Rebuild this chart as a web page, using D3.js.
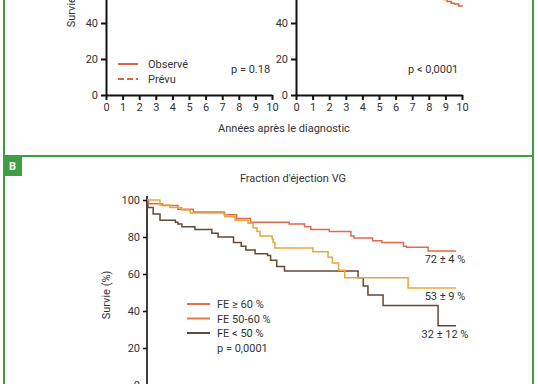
<!DOCTYPE html>
<html>
<head>
<meta charset="utf-8">
<script src="https://cdn.jsdelivr.net/npm/d3@7"></script>
<style>
  body { margin: 0; background: #fff; }
  text { font-family: Roboto, "DejaVu Sans", sans-serif; fill: #333; }
</style>
</head>
<body>
<div id="fig"></div>
<script>
// panel A : observed vs expected (only lower part visible)
var yearTicks = [0, 1, 2, 3, 4, 5, 6, 7, 8, 9, 10];
var survTicks = [0, 20, 40, 60, 80, 100];
var legendA = ["Observé", "Prévu"];
var pValuesA = ["p = 0.18", "p < 0,0001"];
// tail of observed curve, right chart (years, %)
var obsA2 = [[8.6, 54], [8.85, 53], [9.1, 52], [9.35, 51], [9.55, 50.5], [9.8, 49.5], [10, 49]];

// panel B : LV ejection fraction, Kaplan-Meier steps (years, %)
var groupsB = ["FE ≥ 60 %", "FE 50-60 %", "FE < 50 %"];
var feHigh = [[0, 100], [0.05, 98], [0.5, 97], [1.0, 95], [1.5, 93.5], [2.5, 92], [2.9, 90], [3.35, 88],
  [4.6, 87], [5.1, 85.5], [5.3, 84], [5.9, 83], [6.6, 80.5], [6.7, 79.5], [7.3, 78], [7.6, 77],
  [8.3, 75], [8.4, 74.5], [9.1, 72.5], [10, 72.5]];
var feMid = [[0, 100], [0.42, 97.3], [0.74, 96], [1.13, 94.6], [1.4, 93], [2.52, 91], [2.85, 89],
  [3.27, 87.5], [3.43, 85], [3.56, 83], [3.66, 80.5], [4.05, 79], [4.08, 77], [4.14, 74], [5.37, 72],
  [5.86, 69], [6.0, 66], [6.2, 62], [6.4, 58], [8.45, 52.5], [10, 52.5]];
var feLow = [[0, 100], [0.03, 96], [0.2, 92.5], [0.42, 89], [0.92, 88], [1.0, 87], [1.13, 85.5],
  [1.55, 84], [2.1, 82], [2.3, 80], [2.8, 77], [3.05, 75], [3.2, 73], [3.5, 71], [3.9, 70], [4.0, 67.5],
  [4.2, 64], [4.45, 61.6], [6.83, 58], [7.0, 53.5], [7.15, 48.6], [7.64, 43], [9.42, 32], [10, 32]];
var endLabels = ["72 ± 4 %", "53 ± 9 %", "32 ± 12 %"];
var pValueB = "p = 0,0001";

var curveColors = ["#e06a4e", "#eaa53c", "#5e4a38"];
var legendColors = ["#e0704f", "#e27a4a", "#5e4a38"];
var green = "#3f9e44";

var svg = d3.select("#fig").append("svg")
  .attr("width", 538)
  .attr("height", 384);

// frames
svg.append("path")
  .attr("d", "M4,0V384M533,0V384M4,156H533")
  .attr("fill", "none")
  .attr("stroke", green)
  .attr("stroke-width", 2);
svg.append("rect")
  .attr("x", 3).attr("y", 156).attr("width", 19).attr("height", 20)
  .attr("fill", green);
svg.append("text")
  .attr("x", 12.5).attr("y", 170)
  .attr("text-anchor", "middle")
  .attr("font-size", "11px")
  .attr("font-weight", "bold")
  .style("fill", "#fff")
  .text("B");

// ---------- panel A ----------
var yA = d3.scaleLinear().domain([0, 100]).range([95, -85]);
var xA1 = d3.scaleLinear().domain([0, 10]).range([106, 272]);
var xA2 = d3.scaleLinear().domain([0, 10]).range([296, 462]);

function drawAxesA(x) {
  var gy = svg.append("g")
    .attr("transform", "translate(" + x.range()[0] + ",0)")
    .call(d3.axisLeft(yA).tickValues(survTicks).tickSize(5).tickSizeOuter(0));
  var gx = svg.append("g")
    .attr("transform", "translate(0," + yA(0) + ")")
    .call(d3.axisBottom(x).tickValues(yearTicks).tickSize(5).tickSizeOuter(0).tickPadding(3));
  [gy, gx].forEach(function (g) {
    g.selectAll("path, line").attr("stroke", "#111").attr("stroke-width", 2);
    g.selectAll("text").attr("font-size", "11px").style("fill", "#333");
  });
  // upper part of panel A is cropped off the figure
  gy.selectAll(".tick").filter(function (d) { return yA(d) < 0; }).remove();
}
drawAxesA(xA1);
drawAxesA(xA2);

svg.append("text")
  .attr("transform", "translate(75,3) rotate(-90)")
  .attr("text-anchor", "middle")
  .attr("font-size", "11px")
  .text("Survie (%)");

svg.append("text")
  .attr("x", 284).attr("y", 132)
  .attr("text-anchor", "middle")
  .attr("font-size", "11px")
  .text("Années après le diagnostic");

var lineA2 = d3.line()
  .x(function (d) { return xA2(d[0]); })
  .y(function (d) { return yA(d[1]); })
  .curve(d3.curveStepAfter);
svg.append("path")
  .datum(obsA2)
  .attr("d", lineA2)
  .attr("fill", "none")
  .attr("stroke", "#e0603c")
  .attr("stroke-width", 1.5);

// legend A
legendA.forEach(function (t, i) {
  var y = 64 + i * 15;
  svg.append("line")
    .attr("x1", 118).attr("x2", 138).attr("y1", y).attr("y2", y)
    .attr("stroke", "#d9643e").attr("stroke-width", 2)
    .attr("stroke-dasharray", i == 1 ? "6,3" : null);
  svg.append("text")
    .attr("x", 148).attr("y", y + 4)
    .attr("font-size", "11px")
    .text(t);
});
svg.append("text").attr("x", 231).attr("y", 73).attr("font-size", "11px").text(pValuesA[0]);
svg.append("text").attr("x", 408).attr("y", 73).attr("font-size", "11px").text(pValuesA[1]);

// ---------- panel B ----------
var xB = d3.scaleLinear().domain([0, 10]).range([147, 456]);
var yB = d3.scaleLinear().domain([0, 100]).range([385, 200]);

svg.append("text")
  .attr("x", 293).attr("y", 182)
  .attr("text-anchor", "middle")
  .attr("font-size", "11px")
  .text("Fraction d'éjection VG");

var gyB = svg.append("g")
  .attr("transform", "translate(" + xB(0) + ",0)")
  .call(d3.axisLeft(yB).tickValues(survTicks).tickSize(4).tickSizeOuter(0).tickPadding(3));
var gxB = svg.append("g")
  .attr("transform", "translate(0," + yB(0) + ")")
  .call(d3.axisBottom(xB).tickValues(yearTicks).tickSize(4).tickSizeOuter(0));
[gyB, gxB].forEach(function (g) {
  g.selectAll("path, line").attr("stroke", "#111").attr("stroke-width", 1.6);
  g.selectAll("text").attr("font-size", "11px").style("fill", "#333");
});
gyB.select("path.domain").attr("d", "M0,196V" + yB(0));
// x labels of panel B fall below the crop
gxB.selectAll("text").remove();

svg.append("text")
  .attr("transform", "translate(110,295) rotate(-90)")
  .attr("text-anchor", "middle")
  .attr("font-size", "11px")
  .text("Survie (%)");

var lineB = d3.line()
  .x(function (d) { return xB(d[0]); })
  .y(function (d) { return yB(d[1]); })
  .curve(d3.curveStepAfter);

var seriesB = [feHigh, feMid, feLow];
// draw low first so the others lie on top as in the figure
[2, 0, 1].forEach(function (i) {
  svg.append("path")
    .datum(seriesB[i])
    .attr("d", lineB)
    .attr("fill", "none")
    .attr("stroke", curveColors[i])
    .attr("stroke-width", 1.5);
});

// end values
seriesB.forEach(function (s, i) {
  var last = s[s.length - 1];
  svg.append("text")
    .attr("x", xB(last[0]) - 11)
    .attr("y", yB(last[1]) + 12)
    .attr("text-anchor", "middle")
    .attr("font-size", "11px")
    .text(endLabels[i]);
});

// legend B
groupsB.forEach(function (t, i) {
  var y = 304 + i * 14.5;
  svg.append("line")
    .attr("x1", 187).attr("x2", 210).attr("y1", y).attr("y2", y)
    .attr("stroke", legendColors[i]).attr("stroke-width", 2);
  svg.append("text")
    .attr("x", 217).attr("y", y + 4)
    .attr("font-size", "11px")
    .text(t);
});
svg.append("text").attr("x", 217).attr("y", 352).attr("font-size", "11px").text(pValueB);
</script>
</body>
</html>
